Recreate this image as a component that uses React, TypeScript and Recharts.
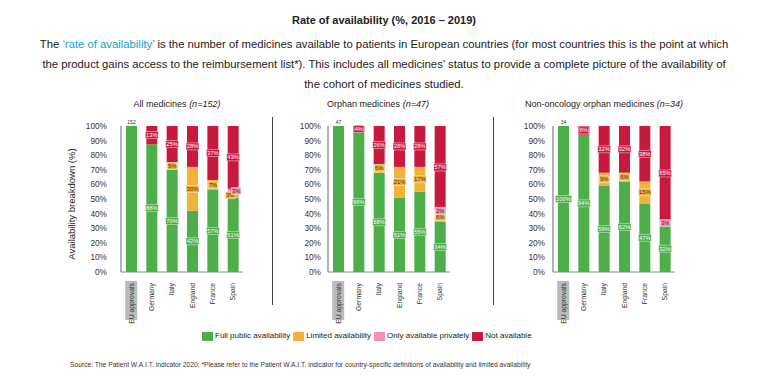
import React from 'react';
import { BarChart, Bar, XAxis, YAxis, LabelList } from 'recharts';

const countries = ['EU approvals', 'Germany', 'Italy', 'England', 'France', 'Spain'];
const yTicks = [0, 10, 20, 30, 40, 50, 60, 70, 80, 90, 100];

// All medicines (n=152)
const allFull = [100, 87.5, 70, 42, 56.5, 51];
const allLimited = [0, 0, 5, 30, 6.5, 3];
const allPrivate = [0, 0, 0, 0, 0, 3];
const allNot = [0, 12.5, 25, 28, 37, 43];

// Orphan medicines (n=47)
const orphanFull = [100, 96, 68, 51, 55, 34.4];
const orphanLimited = [0, 0, 6, 21, 17, 6.4];
const orphanPrivate = [0, 0, 0, 0, 0, 2.4];
const orphanNot = [0, 4, 26, 28, 28, 56.8];

// Non-oncology orphan medicines (n=34)
const nonOncFull = [100, 94, 59, 62, 47, 32];
const nonOncLimited = [0, 0, 9, 6, 15, 0];
const nonOncPrivate = [0, 0, 0, 0, 0, 3];
const nonOncNot = [0, 6, 32, 32, 38, 65];

const GREEN = '#4dae4a';
const ORANGE = '#f1b23a';
const PINK = '#f291b0';
const RED = '#c8193f';
const NARROW = '"Liberation Sans Narrow", "Arial Narrow", "Liberation Sans", Arial, sans-serif';
const SANS = '"Liberation Sans", Arial, sans-serif';

const buildRows = (full: number[], limited: number[], priv: number[], not: number[]) =>
  countries.map((country, i) => ({
    country,
    full: full[i],
    limited: limited[i],
    priv: priv[i],
    not: not[i],
  }));

// hideFirst only makes sense for the green series, where index 0 is always EU approvals
const segLabel = (fill: string, textFill: string, hideFirst: boolean, dxSmall = 0) => (props: any) => {
  const { x, y, width, height, value, index } = props;
  if (!value) return null;
  if (hideFirst && index === 0) return null;
  const txt = `${Math.round(value)}%`;
  const w = txt.length * 3.3 + 3;
  const cx = x + width / 2 + (height < 6 ? dxSmall : 0);
  const cy = y + height / 2;
  return (
    <g>
      <rect x={cx - w / 2} y={cy - 3.5} width={w} height={7} fill={fill} stroke="#fff" strokeOpacity={0.7} strokeWidth={0.6} />
      <text x={cx} y={cy + 2} textAnchor="middle" fontSize={5.8} fill={textFill} fontFamily={SANS}>
        {txt}
      </text>
    </g>
  );
};

const countLabel = (n: number) => (props: any) => {
  const { x, y, width, index } = props;
  if (index !== 0) return null;
  return (
    <text x={x + width / 2} y={y - 2.5} textAnchor="middle" fontSize={5} fill="#333" fontFamily={SANS}>
      {n}
    </text>
  );
};

const XTick = (props: any) => {
  const { x, y, payload, index } = props;
  return (
    <g transform={`translate(${x},${y})`}>
      {index === 0 && <rect x={-6} y={1} width={12} height={39} fill="#b8bcbc" />}
      <text x={-3} y={2.5} transform="rotate(-90)" textAnchor="end" fontSize={6.8} fill="#333" fontFamily={SANS}>
        {payload.value}
      </text>
    </g>
  );
};

function Panel({ rows, left, n, tickGap, showFirst, shift }: any) {
  return (
    <div style={{ position: 'absolute', left, top: 110 }}>
      <BarChart width={162} height={226} data={rows} margin={{ top: 16, right: 0, bottom: 0, left: 0 }}>
        <XAxis
          dataKey="country"
          interval={0}
          tick={<XTick />}
          tickLine={false}
          axisLine={{ stroke: '#888' }}
          height={64}
        />
        <YAxis
          width={40}
          domain={[0, 100]}
          ticks={yTicks}
          tickFormatter={(v: number) => `${v}%`}
          tick={{ fontSize: 8.3, fill: '#333', fontFamily: SANS }}
          tickLine={false}
          tickSize={0}
          tickMargin={tickGap}
          axisLine={{ stroke: '#666' }}
        />
        <Bar dataKey="full" stackId="a" fill={GREEN} barSize={11} isAnimationActive={false}>
          <LabelList dataKey="full" content={segLabel(GREEN, '#fff', !showFirst)} />
          <LabelList dataKey="full" content={countLabel(n)} />
        </Bar>
        <Bar dataKey="limited" stackId="a" fill={ORANGE} barSize={11} isAnimationActive={false}>
          <LabelList dataKey="limited" content={segLabel(ORANGE, '#333', false, shift ? -3 : 0)} />
        </Bar>
        <Bar dataKey="priv" stackId="a" fill={PINK} barSize={11} isAnimationActive={false}>
          <LabelList dataKey="priv" content={segLabel(PINK, '#333', false, shift ? 3 : 0)} />
        </Bar>
        <Bar dataKey="not" stackId="a" fill={RED} barSize={11} isAnimationActive={false}>
          <LabelList dataKey="not" content={segLabel(RED, '#fff', false)} />
        </Bar>
      </BarChart>
    </div>
  );
}

const subtitle = (cx: number, name: string, n: number) => (
  <div
    style={{
      position: 'absolute',
      left: cx - 150,
      width: 300,
      top: 99,
      textAlign: 'center',
      fontSize: 9,
      lineHeight: '11px',
      color: '#222',
      fontFamily: SANS,
    }}
  >
    {name} <i>(n={n})</i>
  </div>
);

const legendItems = [
  { label: 'Full public availability', color: GREEN },
  { label: 'Limited availability', color: ORANGE },
  { label: 'Only available privately', color: PINK },
  { label: 'Not available', color: RED },
];

export default function App() {
  return (
    <div
      style={{
        position: 'absolute',
        left: 0,
        top: 0,
        width: 768,
        height: 386,
        background: '#fff',
        overflow: 'hidden',
        fontFamily: SANS,
        color: '#222',
      }}
    >
      <div
        style={{
          position: 'absolute',
          top: 13,
          width: 768,
          textAlign: 'center',
          fontFamily: NARROW,
          fontWeight: 'bold',
          fontSize: 11,
          lineHeight: '14px',
        }}
      >
        Rate of availability (%, 2016 – 2019)
      </div>
      <div
        style={{
          position: 'absolute',
          top: 34,
          width: 768,
          textAlign: 'center',
          fontFamily: NARROW,
          fontSize: 11.3,
          lineHeight: '20px',
          whiteSpace: 'nowrap',
        }}
      >
        The <span style={{ color: '#1ba1c9' }}>‘rate of availability’</span> is the number of medicines available to
        patients in European countries (for most countries this is the point at which
        <br />
        the product gains access to the reimbursement list*). This includes all medicines’ status to provide a complete
        picture of the availability of
        <br />
        the cohort of medicines studied.
      </div>

      {subtitle(177, 'All medicines', 152)}
      {subtitle(378, 'Orphan medicines', 47)}
      {subtitle(604, 'Non-oncology orphan medicines', 34)}

      <div
        style={{
          position: 'absolute',
          left: 12,
          top: 198,
          width: 120,
          height: 12,
          textAlign: 'center',
          fontSize: 9.5,
          lineHeight: '12px',
          transform: 'rotate(-90deg)',
          whiteSpace: 'nowrap',
        }}
      >
        Availability breakdown (%)
      </div>

      <Panel
        rows={buildRows(allFull, allLimited, allPrivate, allNot)}
        left={81}
        n={152}
        tickGap={14}
        showFirst={false}
        shift={true}
      />
      <Panel
        rows={buildRows(orphanFull, orphanLimited, orphanPrivate, orphanNot)}
        left={288}
        n={47}
        tickGap={7}
        showFirst={false}
        shift={false}
      />
      <Panel
        rows={buildRows(nonOncFull, nonOncLimited, nonOncPrivate, nonOncNot)}
        left={513}
        n={34}
        tickGap={8}
        showFirst={true}
        shift={false}
      />

      <div style={{ position: 'absolute', left: 272, top: 117, width: 1, height: 188, background: '#444' }} />
      <div style={{ position: 'absolute', left: 493, top: 117, width: 1, height: 188, background: '#444' }} />

      <div
        style={{
          position: 'absolute',
          left: 202,
          top: 331,
          display: 'flex',
          alignItems: 'center',
          fontSize: 8,
          lineHeight: '10px',
          color: '#222',
          whiteSpace: 'nowrap',
        }}
      >
        {legendItems.map((it) => (
          <div key={it.label} style={{ display: 'flex', alignItems: 'center', marginRight: 3 }}>
            <span style={{ display: 'inline-block', width: 11, height: 9, background: it.color, marginRight: 2 }} />
            {it.label}
          </div>
        ))}
      </div>

      <div
        style={{
          position: 'absolute',
          left: 70,
          top: 361,
          fontSize: 6.7,
          lineHeight: '8px',
          color: '#333',
          whiteSpace: 'nowrap',
        }}
      >
        Source: The Patient W.A.I.T. indicator 2020; *Please refer to the Patient W.A.I.T. indicator for country-specific
        definitions of availability and limited availability
      </div>
    </div>
  );
}
